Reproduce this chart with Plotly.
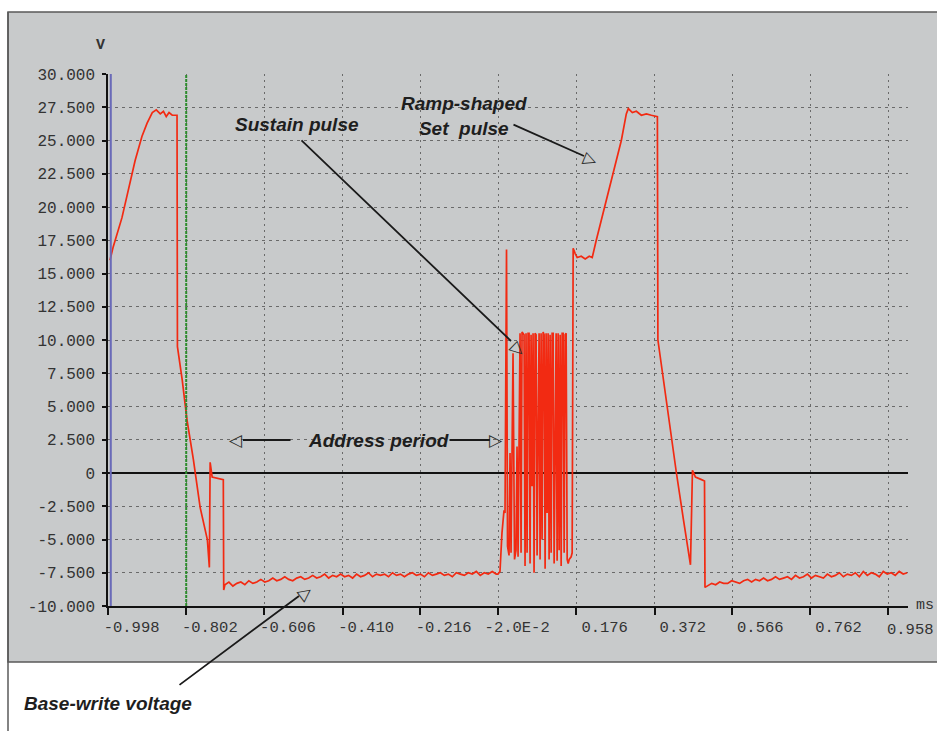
import plotly.graph_objects as go

# ---------------- data (time in ms, voltage in V) ----------------
set1_t = [-0.993, -0.985, -0.963, -0.948, -0.930, -0.913, -0.900, -0.887, -0.877, -0.867,
          -0.859, -0.852, -0.845, -0.837, -0.825, -0.824, -0.812, -0.800, -0.784, -0.767,
          -0.749, -0.744, -0.742, -0.737, -0.722, -0.709, -0.708]
set1_v = [16.0, 17.0, 19.2, 21.1, 23.5, 25.3, 26.3, 27.1, 27.3, 27.0,
          27.2, 26.8, 27.1, 26.9, 26.9, 9.5, 7.0, 4.0, 1.0, -2.6,
          -5.0, -7.1, 0.8, -0.3, -0.4, -0.5, -8.8]

base1_t = [-0.705, -0.695, -0.685, -0.675, -0.665, -0.655, -0.645, -0.635, -0.625, -0.615,
           -0.605, -0.595, -0.585, -0.575, -0.565, -0.555, -0.545, -0.535, -0.525, -0.515,
           -0.505, -0.495, -0.485, -0.475, -0.465, -0.455, -0.445, -0.435, -0.425, -0.415,
           -0.405, -0.395, -0.385, -0.375, -0.365, -0.355, -0.345, -0.335, -0.325, -0.315,
           -0.305, -0.295, -0.285, -0.275, -0.265, -0.255, -0.245, -0.235, -0.225, -0.215,
           -0.205, -0.195, -0.185, -0.175, -0.165, -0.155, -0.145, -0.135, -0.125, -0.115,
           -0.105, -0.095, -0.085, -0.075, -0.065, -0.055, -0.045, -0.035, -0.025]
base1_v = [-8.4, -8.2, -8.5, -8.3, -8.2, -8.4, -8.1, -8.3, -8.2, -8.0,
           -8.2, -8.1, -7.9, -8.1, -8.0, -7.8, -8.0, -8.1, -7.9, -7.8,
           -8.0, -7.9, -7.7, -7.9, -7.8, -7.6, -7.9, -7.7, -7.8, -7.6,
           -7.8, -7.7, -7.9, -7.6, -7.8, -7.7, -7.5, -7.8, -7.6, -7.7,
           -7.6, -7.8, -7.5, -7.7, -7.6, -7.8, -7.6, -7.5, -7.7, -7.6,
           -7.8, -7.5, -7.7, -7.6, -7.5, -7.7, -7.6, -7.8, -7.5, -7.6,
           -7.7, -7.5, -7.6, -7.4, -7.7, -7.5, -7.6, -7.4, -7.6]

sustain_t = [-0.0206, -0.0156, -0.0106, -0.0055, -0.0030, 0.0008, 0.0033, 0.0071, 0.0096, 0.0121,
             0.0171, 0.0209, 0.0246, 0.0271, 0.0297, 0.0347, 0.0372, 0.0397, 0.0447, 0.0472,
             0.0497, 0.0523, 0.0548, 0.0573, 0.0598, 0.0623, 0.0648, 0.0673, 0.0698, 0.0724,
             0.0749, 0.0774, 0.0799, 0.0824, 0.0849, 0.0874, 0.0899, 0.0925, 0.0950, 0.0975,
             0.1000, 0.1025, 0.1050, 0.1075, 0.1100, 0.1126, 0.1151, 0.1176, 0.1201, 0.1226,
             0.1251, 0.1276, 0.1301, 0.1327, 0.1352, 0.1377, 0.1402, 0.1427, 0.1452, 0.1477,
             0.1502, 0.1528, 0.1553, 0.1578, 0.1628, 0.1653, 0.1678, 0.1729, 0.1779, 0.1880,
             0.1980, 0.2081, 0.2156]
sustain_v = [-7.6, -7.4, -4.5, -2.8, -3.0, 16.8, -5.5, -6.2, 1.5, -6.0,
             9.0, -6.5, -5.8, 2.0, -6.3, 10.5, -6.0, 10.6, 10.4, -7.0,
             10.5, -6.0, 10.5, 10.5, -6.8, 10.4, -1.0, 10.5, -7.5, 10.5,
             10.4, -6.2, 3.0, 10.5, -6.5, 10.5, -5.0, 10.6, 10.4, -7.2,
             10.5, -3.0, 10.5, -6.5, 10.4, -6.0, 10.5, 10.5, -6.8, 0.5,
             10.5, -6.6, 10.5, -5.8, 10.4, -7.0, 10.5, 10.5, -6.0, 10.4,
             10.5, -6.5, -6.8, -6.5, -6.3, -6.0, 16.9, 16.5, 16.2, 16.3,
             16.1, 16.3, 16.2]

set2_t = [0.2257, 0.2382, 0.2558, 0.2709, 0.2885, 0.3010, 0.3060, 0.3161, 0.3261, 0.3387,
          0.3513, 0.3638, 0.3789, 0.3802, 0.3940, 0.4091, 0.4266, 0.4442, 0.4618, 0.4668,
          0.4743, 0.4894, 0.4970, 0.4982]
set2_v = [17.5, 19.0, 21.0, 23.0, 25.0, 27.0, 27.4, 27.1, 27.2, 26.9,
          27.0, 26.9, 26.8, 10.0, 7.0, 3.5, 0.0, -3.5, -6.9, 0.2,
          -0.3, -0.5, -0.6, -8.6]

base2_t = [0.505, 0.515, 0.525, 0.535, 0.545, 0.555, 0.565, 0.575, 0.585, 0.595,
           0.605, 0.615, 0.625, 0.635, 0.645, 0.655, 0.665, 0.675, 0.685, 0.695,
           0.705, 0.715, 0.725, 0.735, 0.745, 0.755, 0.765, 0.775, 0.785, 0.795,
           0.805, 0.815, 0.825, 0.835, 0.845, 0.855, 0.865, 0.875, 0.885, 0.895,
           0.905, 0.915, 0.925, 0.935, 0.945, 0.955, 0.965, 0.975, 0.985, 0.995,
           1.005]
base2_v = [-8.5, -8.3, -8.4, -8.2, -8.3, -8.3, -8.1, -8.2, -8.3, -8.1,
           -8.0, -8.2, -8.0, -8.1, -7.9, -8.1, -8.0, -7.8, -8.0, -7.9,
           -7.8, -8.0, -7.7, -7.9, -7.8, -7.6, -7.9, -7.7, -7.8, -7.9,
           -7.6, -7.8, -7.7, -7.5, -7.8, -7.6, -7.7, -7.5, -7.8, -7.4,
           -7.7, -7.5, -7.6, -7.8, -7.4, -7.6, -7.5, -7.7, -7.4, -7.6,
           -7.5]

blue_cursor_t = -0.991
green_cursor_t = -0.802

x_tick_vals = [-0.998, -0.802, -0.606, -0.410, -0.216, -0.020, 0.176, 0.372, 0.566, 0.762, 0.958]
x_tick_text = ["-0.998", "-0.802", "-0.606", "-0.410", "-0.216", "-2.0E-2",
               "0.176", "0.372", "0.566", "0.762", ""]
last_x_tick_text = "0.958"
y_tick_vals = [-10, -7.5, -5, -2.5, 0, 2.5, 5, 7.5, 10, 12.5, 15, 17.5, 20, 22.5, 25, 27.5, 30]
y_tick_text = ["-10.000", "-7.500", "-5.000", "-2.500", "0", "2.500", "5.000", "7.500",
               "10.000", "12.500", "15.000", "17.500", "20.000", "22.500", "25.000",
               "27.500", "30.000"]

# ---------------- figure ----------------
t_all = set1_t + base1_t + sustain_t + set2_t + base2_t
v_all = set1_v + base1_v + sustain_v + set2_v + base2_v

GRAY = "#c8cacb"
MONO = "Liberation Mono, Courier New, monospace"
SANS = "Liberation Sans, Arial, sans-serif"
TXT = "#1e1e1e"

fig = go.Figure()
fig.add_trace(go.Scatter(x=t_all, y=v_all, mode="lines",
                         line=dict(color="#f22a12", width=1.7), showlegend=False,
                         hoverinfo="skip"))

# gray panel behind chart
fig.add_shape(type="rect", xref="paper", yref="paper", x0=-0.125, x1=1.04, y0=-0.1053, y1=1.1165,
              fillcolor=GRAY, line=dict(color="#5a5a5a", width=1.5), layer="below")
fig.add_shape(type="line", xref="paper", yref="paper", x0=-0.125, x1=-0.125, y0=-0.24, y1=1.1165,
              line=dict(color="#5a5a5a", width=1.5), layer="below")

# cursors
fig.add_shape(type="line", xref="x", yref="paper", x0=blue_cursor_t, x1=blue_cursor_t, y0=0, y1=1,
              line=dict(color="#6a6ab8", width=2))
fig.add_shape(type="line", xref="x", yref="paper", x0=green_cursor_t, x1=green_cursor_t, y0=0, y1=1,
              line=dict(color="#2d8c2d", width=2, dash="3px,1px"))


def px2paper(px, py):
    return (px - 108) / 800.0, (606 - py) / 532.0


def text_ann(text, px, py, size=19, xanchor="center", font=SANS, italic=True, bold=True, angle=0,
             color=TXT):
    x, y = px2paper(px, py)
    t = text
    if bold:
        t = "<b>" + t + "</b>"
    if italic:
        t = "<i>" + t + "</i>"
    fig.add_annotation(x=x, y=y, xref="paper", yref="paper", text=t, showarrow=False,
                       xanchor=xanchor, yanchor="middle", textangle=angle,
                       font=dict(family=font, size=size, color=color))


def arrow_line(px_tail, py_tail, px_head, py_head):
    x, y = px2paper(px_head, py_head)
    fig.add_annotation(x=x, y=y, xref="paper", yref="paper", text="", showarrow=True,
                       arrowhead=0, arrowwidth=1.8, arrowcolor="#1a1a1a",
                       ax=px_tail - px_head, ay=py_tail - py_head, standoff=0, startstandoff=0)


def tri(glyph, px, py, angle=0):
    x, y = px2paper(px, py)
    fig.add_annotation(x=x, y=y, xref="paper", yref="paper", text=glyph, showarrow=False,
                       xanchor="center", yanchor="middle", textangle=angle,
                       font=dict(family="DejaVu Sans", size=17, color="#2a2a2a"))


# labels
text_ann("Sustain pulse", 297, 124)
text_ann("Ramp-shaped<br>Set\u00a0\u00a0pulse", 464, 116)
text_ann("Address period", 378, 440)
text_ann("Base-write voltage", 22, 703, xanchor="left")
text_ann("V", 100, 45, size=15, font=MONO, italic=False, color="#333333")
text_ann("ms", 936, 605, size=15, font=MONO, italic=False, bold=False, xanchor="right", color="#333333")
text_ann(last_x_tick_text, 936, 630, size=15.5, font=MONO, italic=False, bold=False,
         xanchor="right", color="#333333")

# arrows
arrow_line(300, 139, 511, 341)
tri("\u25b7", 519, 349, angle=44)
arrow_line(512, 124, 584, 156)
tri("\u25b7", 591, 159, angle=22)
arrow_line(292, 440, 243, 440)
tri("\u25c1", 236, 440)
arrow_line(448, 440, 490, 440)
tri("\u25b7", 496, 440)
arrow_line(178, 686, 299, 596)
tri("\u25b7", 305, 592, angle=-37)

fig.update_layout(
    width=937, height=731,
    margin=dict(l=108, r=29, t=74, b=125),
    paper_bgcolor="white", plot_bgcolor=GRAY,
    showlegend=False,
)
fig.update_xaxes(range=[-0.998, 1.007], tickmode="array", tickvals=x_tick_vals, ticktext=x_tick_text,
                 showgrid=True, gridcolor="#6a6a6a", gridwidth=1, griddash="2px,4px",
                 zeroline=False, showline=True, linecolor="#111111", linewidth=1.5,
                 ticks="outside", ticklen=7, tickcolor="#111111", tickwidth=1.5,
                 ticklabelposition="outside left", ticklabelshift=53, ticklabelstandoff=6,
                 tickfont=dict(family=MONO, size=15.5, color="#333333"))
fig.update_yaxes(range=[-10, 30], tickmode="array", tickvals=y_tick_vals, ticktext=y_tick_text,
                 showgrid=True, gridcolor="#6a6a6a", gridwidth=1, griddash="3px,4px",
                 zeroline=True, zerolinecolor="#111111", zerolinewidth=1.5,
                 showline=True, linecolor="#111111", linewidth=1.5,
                 ticks="outside", ticklen=4, tickcolor="#111111", tickwidth=1.5,
                 ticklabelstandoff=4,
                 tickfont=dict(family=MONO, size=16, color="#333333"))

fig.write_html("out.html", config={"displayModeBar": False},
               post_script="document.body.style.margin='0px';document.body.style.overflow='hidden';")
